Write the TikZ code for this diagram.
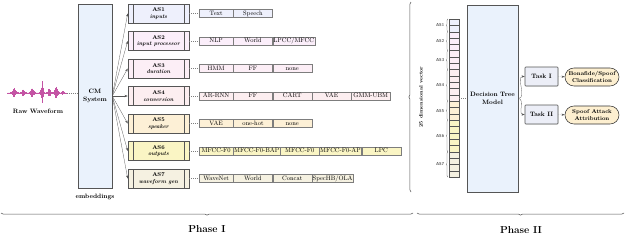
\documentclass[tikz,border=0pt]{standalone}
\usepackage{xcolor}
\usepackage{tikz}
\usetikzlibrary{arrows.meta,positioning,shadows,decorations.pathreplacing}
\definecolor{phGrey}  {RGB}{ 85, 85, 85}
\definecolor{phGreyL} {RGB}{125,125,125}
\definecolor{phBlueXL}{RGB}{234,242,252}
\definecolor{phWave}  {RGB}{196, 84,164}
\definecolor{phTask}  {RGB}{236,238,247}
\definecolor{phGoal}  {RGB}{253,239,208}
\definecolor{asA}{RGB}{238,240,252}
\definecolor{asB}{RGB}{251,238,250}
\definecolor{asC}{RGB}{252,238,246}
\definecolor{asD}{RGB}{252,238,240}
\definecolor{asE}{RGB}{253,240,214}
\definecolor{asF}{RGB}{250,245,196}
\definecolor{asG}{RGB}{245,241,225}

\begin{document}
\begin{tikzpicture}[x=0.5mm,y=-0.5mm,
  every node/.style={font=\small},
  declare function={bmp(\t,\c,\w)=1/(1+((\t-\c)/\w)^2)/(1+((\t-\c)/\w)^2);},
  bigbox/.style={draw=phGrey,thick,fill=phBlueXL,align=center,font=\small\bfseries,
                 drop shadow={shadow xshift=0.7pt,shadow yshift=-0.7pt,opacity=0.35}},
  asbox/.style={draw=phGrey,thick,minimum width=30.5mm,minimum height=9.5mm,inner sep=1pt,
                align=center,font=\footnotesize\bfseries,
                path picture={\draw[phGrey,thick]
                  ([xshift=2.5mm]path picture bounding box.north west) -- ([xshift=2.5mm]path picture bounding box.south west)
                  ([xshift=-2.5mm]path picture bounding box.north east) -- ([xshift=-2.5mm]path picture bounding box.south east);}},
  opt/.style={draw=phGreyL,minimum width=19.5mm,minimum height=4mm,inner xsep=1pt,inner ysep=0pt,
              text height=1.5ex,text depth=.3ex},
  optA/.style={opt,anchor=west,minimum width=17mm},
  cell/.style={draw=phGrey,minimum width=5mm,minimum height=3.16mm,inner sep=0pt},
  task/.style={draw=phGrey,thick,fill=phTask,rounded corners=1pt,minimum width=16.5mm,minimum height=9.5mm,
               font=\small\bfseries,drop shadow={shadow xshift=0.6pt,shadow yshift=-0.6pt,opacity=0.3}},
  goal/.style={draw=black!80,thick,fill=phGoal,rounded corners=4.5mm,minimum width=27mm,minimum height=9mm,
               inner sep=1pt,align=center,font=\footnotesize\bfseries},
  conn/.style={-{Stealth[length=1.6mm,width=1.1mm]},phGrey},
  dotconn/.style={dotted,thick,phGreyL},
  gbrace/.style={decorate,decoration={brace,amplitude=2pt},phGrey},
  phbrace/.style={decorate,decoration={brace,amplitude=3pt},phGrey,thick},
  glab/.style={midway,left=1.6mm,inner sep=0.5pt,font=\fontsize{6}{7}\selectfont\sffamily\bfseries},
  phase/.style={font=\Large\bfseries}
]
\useasboundingbox (0,0) rectangle (640,250);
% Phase I: raw waveform
\draw[phWave,thin] (7,93) -- (66,93);
\foreach \xx in {7,7.4,...,66} {
  \pgfmathsetmacro{\amp}{(0.2+5*bmp(\xx,14,2.2)+3.5*bmp(\xx,23,1.8)+5*bmp(\xx,32,2)+12*bmp(\xx,42,1.3)
                          +4*bmp(\xx,49,1.6)+6.5*bmp(\xx,56,1.8)+2*bmp(\xx,63,1.2))*(0.45+0.55*abs(sin(\xx*157)))}
  \draw[phWave,line width=0.35pt] (\xx,{93-\amp}) -- (\xx,{93+0.9*\amp});
}
\coordinate (waveR) at (67,93);
\node[font=\small\bfseries] (raw) at (38,111) {Raw Waveform};
% CM system and its seven attribute heads
\node[bigbox,minimum width=17mm,minimum height=92mm] (cm) at (95,96) {CM\\System};
\node[font=\small\bfseries] (emb) at (95,197) {embeddings};
\draw[dotconn] (waveR) -- (waveR -| cm.west);
\node[asbox,fill=asA] (as1) at (158.5, 13.5) {AS1\\\textit{inputs}};
\node[asbox,fill=asB] (as2) at (158.5, 41.0) {AS2\\\textit{input processor}};
\node[asbox,fill=asC] (as3) at (158.5, 68.5) {AS3\\\textit{duration}};
\node[asbox,fill=asD] (as4) at (158.5, 96.0) {AS4\\\textit{conversion}};
\node[asbox,fill=asE] (as5) at (158.5,123.5) {AS5\\\textit{speaker}};
\node[asbox,fill=asF] (as6) at (158.5,151.0) {AS6\\\textit{outputs}};
\node[asbox,fill=asG] (as7) at (158.5,178.5) {AS7\\\textit{waveform gen}};
\foreach \i in {1,...,7} \draw[conn] (cm.east) -- (as\i.west);
% option rows
\node[optA,fill=asA] (o1a) at (199, 13.5) {Text};
\node[opt,fill=asA,right=0pt of o1a] (o1b) {Speech};
\node[optA,fill=asB] (o2a) at (199, 41.0) {NLP};
\node[opt,fill=asB,right=0pt of o2a] (o2b) {World};
\node[opt,fill=asB,right=0pt of o2b] (o2c) {LPCC/MFCC};
\node[optA,fill=asC] (o3a) at (199, 68.5) {HMM};
\node[opt,fill=asC,right=0pt of o3a] (o3b) {FF};
\node[opt,fill=asC,right=0pt of o3b] (o3c) {none};
\node[optA,fill=asD] (o4a) at (199, 96.0) {AR-RNN};
\node[opt,fill=asD,right=0pt of o4a] (o4b) {FF};
\node[opt,fill=asD,right=0pt of o4b] (o4c) {CART};
\node[opt,fill=asD,right=0pt of o4c] (o4d) {VAE};
\node[opt,fill=asD,right=0pt of o4d] (o4e) {GMM-UBM};
\node[optA,fill=asE] (o5a) at (199,123.5) {VAE};
\node[opt,fill=asE,right=0pt of o5a] (o5b) {one-hot};
\node[opt,fill=asE,right=0pt of o5b] (o5c) {none};
\node[optA,fill=asF] (o6a) at (199,151.0) {MFCC-F0};
\node[opt,fill=asF,right=0pt of o6a] (o6b) {MFCC-F0-BAP};
\node[opt,fill=asF,right=0pt of o6b] (o6c) {MFCC-F0};
\node[opt,fill=asF,right=0pt of o6c] (o6d) {MFCC-F0-AP};
\node[opt,fill=asF,right=0pt of o6d] (o6e) {LPC};
\node[optA,fill=asG] (o7a) at (199,178.5) {WaveNet};
\node[opt,fill=asG,right=0pt of o7a] (o7b) {World};
\node[opt,fill=asG,right=0pt of o7b] (o7c) {Concat};
\node[opt,fill=asG,right=0pt of o7c] (o7d) {SpecHB/OLA};
\foreach \i in {1,...,7} \draw[dotconn] (as\i.east) -- (o\i a.west);
% Phase II: 25 dimensional vector
\foreach \i/\c in {1/asA,2/asA,3/asB,4/asB,5/asB,6/asC,7/asC,8/asC,9/asD,10/asD,11/asD,12/asD,13/asD,
                   14/asE,15/asE,16/asE,17/asF,18/asF,19/asF,20/asF,21/asF,22/asG,23/asG,24/asG,25/asG}
  \node[cell,fill=\c] (v\i) at (454,{19+6.32*(\i-0.5)}) {};
\draw[gbrace] ([xshift=-1.5pt]v2.south west)  -- ([xshift=-1.5pt]v1.north west)  node[glab] {AS1};
\draw[gbrace] ([xshift=-1.5pt]v5.south west)  -- ([xshift=-1.5pt]v3.north west)  node[glab] {AS2};
\draw[gbrace] ([xshift=-1.5pt]v8.south west)  -- ([xshift=-1.5pt]v6.north west)  node[glab] {AS3};
\draw[gbrace] ([xshift=-1.5pt]v13.south west) -- ([xshift=-1.5pt]v9.north west)  node[glab] {AS4};
\draw[gbrace] ([xshift=-1.5pt]v16.south west) -- ([xshift=-1.5pt]v14.north west) node[glab] {AS5};
\draw[gbrace] ([xshift=-1.5pt]v21.south west) -- ([xshift=-1.5pt]v17.north west) node[glab] {AS6};
\draw[gbrace] ([xshift=-1.5pt]v25.south west) -- ([xshift=-1.5pt]v22.north west) node[glab] {AS7};
\coordinate (vtop) at (411,2);
\coordinate (vbot) at (411,192);
\draw[phbrace] (vbot) -- (vtop);
\node[rotate=90,font=\fontsize{7}{8}\selectfont\bfseries] (dim) at (421,97) {25 dimensional vector};
% decision tree and the two tasks
\node[bigbox,minimum width=25.5mm,minimum height=93.5mm] (dt) at (492.5,98.5) {Decision Tree\\Model};
\draw[dotconn] (v13.east) -- (v13.east -| dt.west);
\node[task] (t1) at (541.5, 76.5) {Task I};
\node[task] (t2) at (541.5,114.5) {Task II};
\node[goal] (g1) at (592, 77) {Bonafide/Spoof\\Classification};
\node[goal] (g2) at (592,115) {Spoof Attack\\Attribution};
\draw[conn] (dt.east) to[out=0,in=180] (t1.west);
\draw[conn] (dt.east) to[out=0,in=180] (t2.west);
\draw[conn,dotted] (t1) -- (g1);
\draw[conn,dotted] (t2) -- (g2);
% phase braces
\coordinate (p1L) at (1,213);
\coordinate (p1R) at (413,213);
\coordinate (p2L) at (417,213);
\coordinate (p2R) at (624,213);
\draw[phbrace] (p1R) -- (p1L);
\draw[phbrace] (p2R) -- (p2L);
\node[phase] (ph1) at (207,229) {Phase I};
\node[phase] (ph2) at (521,230) {Phase II};
\end{tikzpicture}
\end{document}
